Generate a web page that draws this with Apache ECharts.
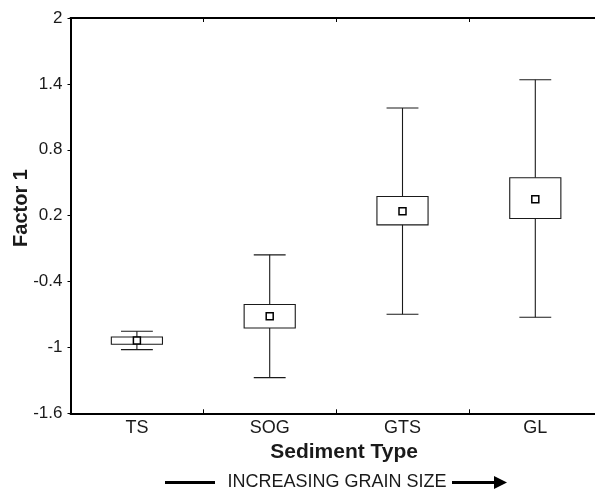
<!DOCTYPE html>
<html><head><meta charset="utf-8">
<script src="https://cdn.jsdelivr.net/npm/echarts@6/dist/echarts.min.js"></script>
<style>html,body{margin:0;padding:0;background:#fff}#c{width:595px;height:491px}</style>
</head><body><div id="c"></div>
<script>
// ---- data ----
const categories = ['TS', 'SOG', 'GTS', 'GL'];
const whiskerLow  = [-1.02, -1.275, -0.698, -0.725];
const boxLow      = [-0.971, -0.823, 0.116, 0.174];
const centerValue = [-0.938, -0.716, 0.241, 0.350];
const boxHigh     = [-0.905, -0.609, 0.375, 0.545];
const whiskerHigh = [-0.853, -0.157, 1.18, 1.438];
const yMin = -1.6, yMax = 2, yStep = 0.6;
const yTitle = 'Factor 1';
const xTitle = 'Sediment Type';
const noteText = 'INCREASING GRAIN SIZE';

const FONT = '"Liberation Sans", Arial, Helvetica, sans-serif';
const INK = '#1a1a1a';

const chart = echarts.init(document.getElementById('c'), null, {renderer: 'canvas'});
const data = categories.map((c, i) => [i, whiskerLow[i], boxLow[i], centerValue[i], boxHigh[i], whiskerHigh[i]]);

function renderItem(params, api) {
  const i = api.value(0);
  const x = api.coord([i, 0])[0];
  const band = api.size([1, 0])[0];
  const y = k => api.coord([i, api.value(k)])[1];
  const yLo = y(1), yQ1 = y(2), yMid = y(3), yQ3 = y(4), yHi = y(5);
  const boxW = band * 0.385, capW = band * 0.24, m = 7;
  const ls = {stroke: INK, lineWidth: 1.1, fill: null};
  return {
    type: 'group',
    children: [
      {type: 'line', shape: {x1: x - capW / 2, y1: yHi, x2: x + capW / 2, y2: yHi}, style: ls},
      {type: 'line', shape: {x1: x, y1: yHi, x2: x, y2: yQ3}, style: ls},
      {type: 'rect', shape: {x: x - boxW / 2, y: yQ3, width: boxW, height: yQ1 - yQ3}, style: {stroke: INK, lineWidth: 1.1, fill: '#fff'}},
      {type: 'line', shape: {x1: x, y1: yQ1, x2: x, y2: yLo}, style: ls},
      {type: 'line', shape: {x1: x - capW / 2, y1: yLo, x2: x + capW / 2, y2: yLo}, style: ls},
      {type: 'rect', shape: {x: x - m / 2, y: yMid - m / 2, width: m, height: m}, style: {stroke: '#000', lineWidth: 1.5, fill: '#fff'}}
    ]
  };
}

const axisLine = {show: true, onZero: false, lineStyle: {color: '#000', width: 2}};
chart.setOption({
  animation: false,
  backgroundColor: '#fff',
  grid: {left: 70.5, right: -6.7, top: 18, bottom: 77.7, containLabel: false, outerBoundsMode: 'none'},
  xAxis: [
    {
      type: 'category', data: categories, position: 'bottom', boundaryGap: true,
      axisLine: axisLine,
      axisTick: {show: true, inside: true, length: 4, lineStyle: {color: '#000', width: 1}},
      axisLabel: {fontFamily: FONT, fontSize: 18, color: INK, margin: 6},
      name: xTitle, nameLocation: 'middle', nameGap: 27,
      nameTextStyle: {fontFamily: FONT, fontSize: 21, fontWeight: 'bold', color: INK, padding: [0, 0, 0, 16], verticalAlign: 'top'}
    },
    {
      type: 'category', data: categories, position: 'top', boundaryGap: true,
      axisLine: axisLine,
      axisTick: {show: true, inside: true, length: 4, lineStyle: {color: '#000', width: 1}},
      axisLabel: {show: false}
    }
  ],
  yAxis: {
    type: 'value', min: yMin, max: yMax, interval: yStep,
    axisLine: axisLine,
    axisTick: {show: true, inside: false, length: 3, lineStyle: {color: '#000', width: 1}},
    splitLine: {show: false},
    axisLabel: {fontFamily: FONT, fontSize: 17, color: INK, margin: 8, formatter: v => String(+v.toFixed(1))}
  },
  series: [{
    type: 'custom', renderItem: renderItem, data: data,
    encode: {x: 0, y: [1, 2, 3, 4, 5]}, clip: false, z: 5
  }],
  graphic: [
    {type: 'text', x: 21, y: 208, rotation: Math.PI / 2, style: {text: yTitle, fontFamily: FONT, fontSize: 20, fontWeight: 'bold', fill: INK, align: 'center', verticalAlign: 'middle'}},
    {type: 'line', shape: {x1: 165, y1: 482.5, x2: 215, y2: 482.5}, style: {stroke: '#000', lineWidth: 3}},
    {type: 'text', x: 337, y: 482, style: {text: noteText, fontFamily: FONT, fontSize: 18, fill: INK, align: 'center', verticalAlign: 'middle'}},
    {type: 'line', shape: {x1: 452, y1: 482.5, x2: 497, y2: 482.5}, style: {stroke: '#000', lineWidth: 3}},
    {type: 'polygon', shape: {points: [[494, 476], [507, 482.5], [494, 489]]}, style: {fill: '#000'}}
  ]
});
</script></body></html>
